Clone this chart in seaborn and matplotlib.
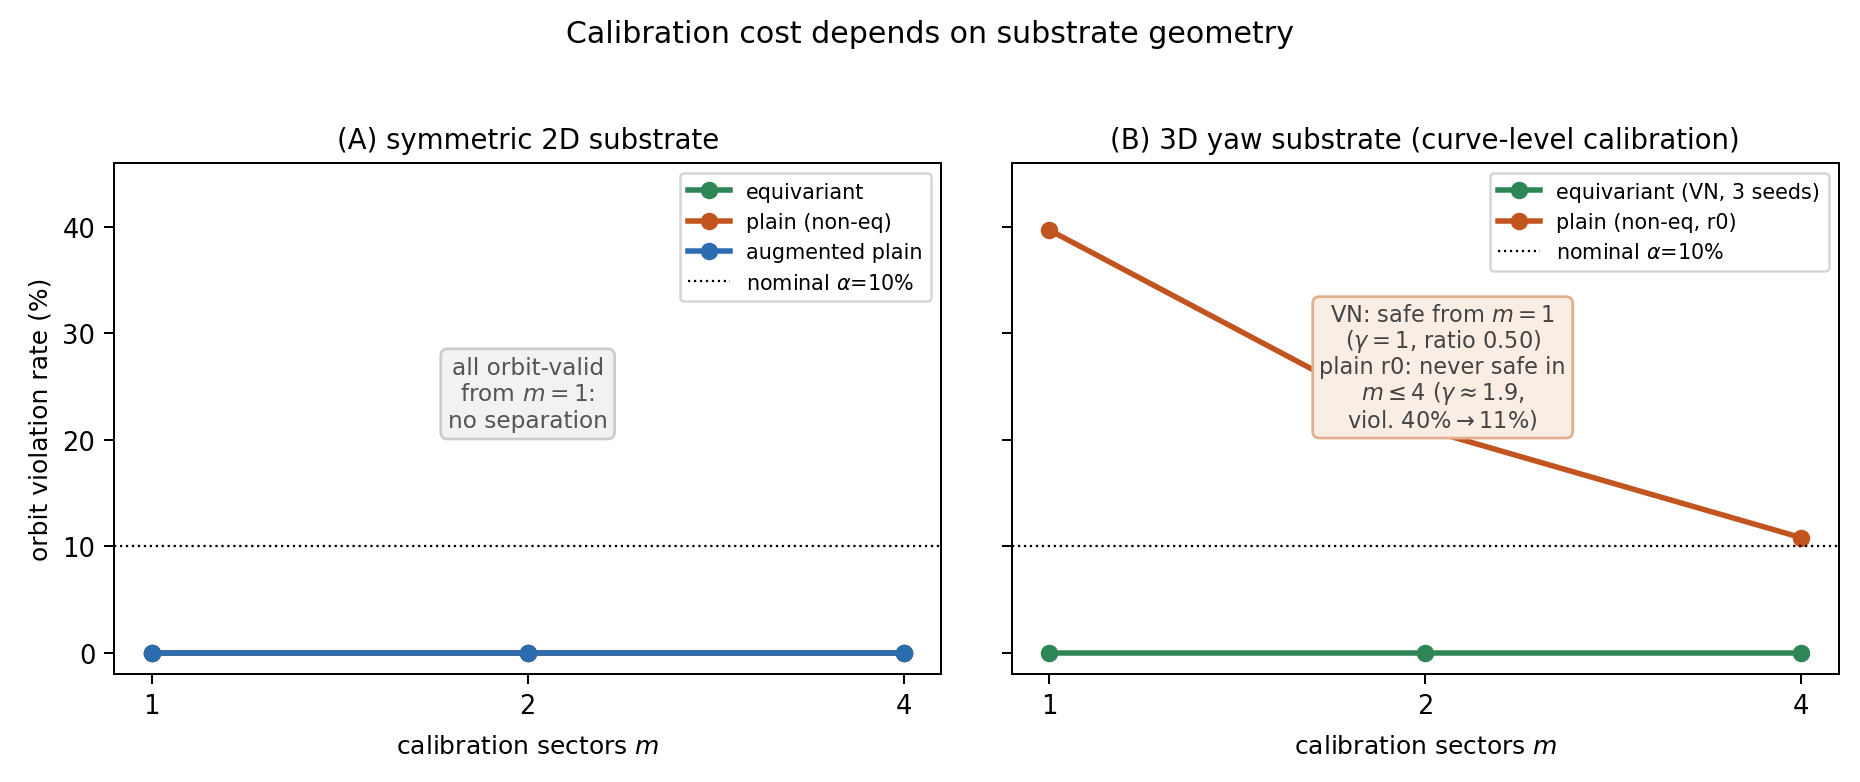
import numpy as np
import pandas as pd
import matplotlib
matplotlib.use("Agg")
import matplotlib.pyplot as plt
import seaborn as sns
from matplotlib.ticker import NullLocator

# calibration sectors
sectors = [1, 2, 4]

# panel A: symmetric 2D substrate (all zero)
a_equivariant = [0.0, 0.0, 0.0]
a_plain = [0.0, 0.0, 0.0]
a_augmented = [0.0, 0.0, 0.0]

# panel B: 3D yaw substrate
b_equivariant = [0.0, 0.0, 0.0]
b_plain = [39.7, 21.0, 10.8]

nominal_alpha = 10

green = "#2e8555"
orange = "#c2541f"
blue = "#2c6cb0"

fig, (ax1, ax2) = plt.subplots(1, 2, figsize=(1860 / 180, 783 / 180), dpi=180, sharey=True)
fig.subplots_adjust(left=0.0613, right=0.9887, bottom=0.138, top=0.7906, wspace=0.085)

line_kw = dict(marker="o", linewidth=2.2, markersize=7, markeredgewidth=0)

# Panel A
for vals, col, lab in [(a_equivariant, green, "equivariant"),
                       (a_plain, orange, "plain (non-eq)"),
                       (a_augmented, blue, "augmented plain")]:
    sns.lineplot(x=sectors, y=vals, ax=ax1, color=col, label=lab, **line_kw)
ax1.axhline(nominal_alpha, color="black", linestyle=":", linewidth=0.9,
            label=r"nominal $\alpha$=10%")
ax1.set_title("(A) symmetric 2D substrate", fontsize=11)
ax1.text(0.5, 0.548, "all orbit-valid\nfrom $m=1$:\nno separation",
         transform=ax1.transAxes, ha="center", va="center", fontsize=9.3,
         color="#555555", linespacing=1.2,
         bbox=dict(boxstyle="round,pad=0.3", facecolor="#f2f2f2",
                   edgecolor="#cccccc", linewidth=1.1))

# Panel B
sns.lineplot(x=sectors, y=b_equivariant, ax=ax2, color=green,
             label="equivariant (VN, 3 seeds)", **line_kw)
sns.lineplot(x=sectors, y=b_plain, ax=ax2, color=orange,
             label="plain (non-eq, r0)", **line_kw)
ax2.axhline(nominal_alpha, color="black", linestyle=":", linewidth=0.9,
            label=r"nominal $\alpha$=10%")
ax2.set_title("(B) 3D yaw substrate (curve-level calibration)", fontsize=11)
ax2.text(0.521, 0.6,
         "VN: safe from $m=1$\n($\\gamma=1$, ratio 0.50)\nplain r0: never safe in\n"
         "$m\\leq4$ ($\\gamma\\approx1.9$,\nviol. 40%$\\rightarrow$11%)",
         transform=ax2.transAxes, ha="center", va="center", fontsize=9,
         color="#444444", linespacing=1.05,
         bbox=dict(boxstyle="round,pad=0.3", facecolor="#f9ede4",
                   edgecolor="#e3b08f", linewidth=1.1))

for ax in (ax1, ax2):
    ax.set_xscale("log", base=2)
    ax.set_xticks(sectors)
    ax.set_xticklabels([str(s) for s in sectors])
    ax.xaxis.set_minor_locator(NullLocator())
    ax.set_xlabel("calibration sectors $m$", fontsize=10, labelpad=6)
    ax.set_ylabel("orbit violation rate (%)", fontsize=10)
    ax.tick_params(labelsize=10.3, length=4)
    ax.legend(loc="upper right", fontsize=8.3)

ax1.set_ylim(-2, 46)
ax2.tick_params(labelleft=False)

fig.suptitle("Calibration cost depends on substrate geometry", fontsize=12, y=0.975)

fig.savefig("out.png", dpi=180)
